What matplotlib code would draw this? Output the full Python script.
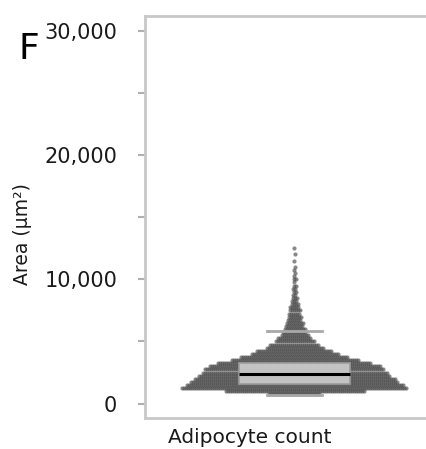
import numpy as np
import matplotlib
matplotlib.use("Agg")
import matplotlib.pyplot as plt
from matplotlib.ticker import MultipleLocator, StrMethodFormatter

# Swarm rows: area bin (um^2) and number of cells in that row
bin_area = [750, 1000, 1250, 1500, 1750, 2000, 2250, 2500, 2750, 3000,
            3250, 3500, 3750, 4000, 4250, 4500, 4750, 5000, 5250, 5500,
            5750, 6000, 6250, 6500, 6750, 7000, 7250, 7500, 7750, 8000,
            8250, 8500, 8750, 9000, 9250, 9500, 9750, 10000, 10250, 10500,
            10750, 11000, 11500, 12000, 12500]
bin_count = [26, 70, 113, 109, 104, 101, 96, 93, 90, 86,
             77, 64, 54, 44, 38, 29, 25, 20, 17, 14,
             12, 11, 9, 9, 7, 7, 6, 6, 5, 4,
             3, 3, 2, 2, 2, 2, 1, 2, 1, 1,
             1, 1, 1, 1, 1]

# Box plot summary (um^2)
box_stats = [dict(q1=1584, med=2387, q3=3272, whislo=700, whishi=5844, label="")]

category = "Adipocyte count"
ylabel = "Area (\u00b5m\u00b2)"
panel = "F"

dot_gap = 2.0  # horizontal spacing between dots in a row

fig = plt.figure(figsize=(4.26, 4.49), dpi=100)
ax = fig.add_axes([145 / 426, 1 - 418 / 449, 1 - 145 / 426, (418 - 15.5) / 449])

xs, ys = [], []
for i, (area, n) in enumerate(zip(bin_area, bin_count)):
    # stagger alternate rows by half a gap so the swarm reads as a texture
    shift = 0.5 * dot_gap * (i % 2)
    offs = (np.arange(n) - (n - 1) / 2.0) * dot_gap + shift
    xs.extend(offs)
    ys.extend([area] * n)
ax.scatter(xs, ys, s=9, color="#4a4a4a", alpha=0.65, linewidths=0, zorder=2)

bp = ax.bxp(box_stats, positions=[0], widths=111, capwidths=55, showfliers=False,
            patch_artist=True,
            boxprops=dict(facecolor="#c3c3c3", edgecolor="#9c9c9c", linewidth=1.2),
            medianprops=dict(color="black", linewidth=2.2),
            whiskerprops=dict(linewidth=0),
            capprops=dict(color="#a8a8a8", linewidth=2.0))
for b in bp["boxes"]:
    b.set_zorder(3)
for m in bp["medians"]:
    m.set_zorder(4)
for c in bp["caps"]:
    c.set_zorder(3)

ax.set_xlim(145 - 294, 426 - 294)
ax.set_ylim(-1150, 31206)
ax.set_xticks([])

ax.yaxis.set_major_locator(MultipleLocator(10000))
ax.yaxis.set_minor_locator(MultipleLocator(5000))
ax.yaxis.set_major_formatter(StrMethodFormatter("{x:,.0f}"))
ax.tick_params(axis="y", which="both", length=5, width=1.5, color="#b0b0b0",
               pad=15, labelsize=15, labelcolor="#1a1a1a")

for side in ["left", "top", "bottom"]:
    ax.spines[side].set_color("#c8c8c8")
    ax.spines[side].set_linewidth(2)
ax.spines["right"].set_visible(False)

fig.text(250 / 426, 1 - 443 / 449, category, ha="center", va="baseline",
         fontsize=14.5, color="#1a1a1a")
fig.text(23 / 426, 1 - 234 / 449, ylabel, ha="center", va="center",
         rotation=90, fontsize=13.5, color="#1a1a1a")
fig.text(19 / 426, 1 - 59 / 449, panel, ha="left", va="baseline",
         fontsize=26, color="black")

fig.savefig("out.png", dpi=100)
